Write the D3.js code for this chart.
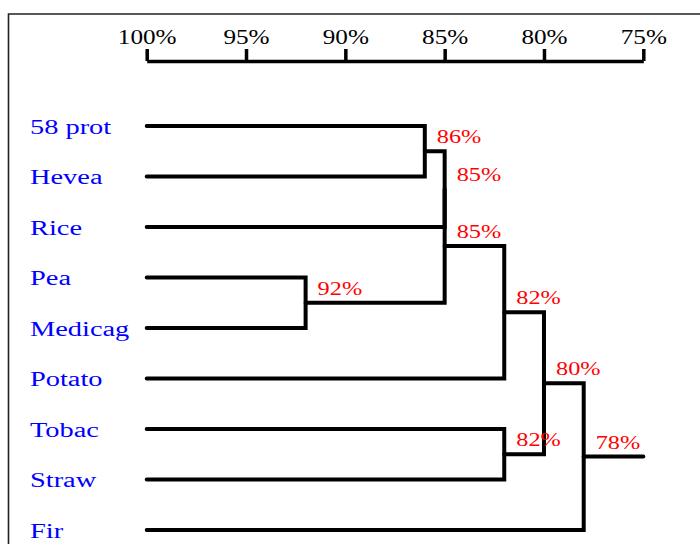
<!DOCTYPE html>
<html>
<head>
<meta charset="utf-8">
<script src="https://cdn.jsdelivr.net/npm/d3@7"></script>
<style>
  html, body { margin: 0; padding: 0; background: #fff; }
  svg { display: block; }
  text { font-family: "Liberation Serif", "Times New Roman", serif; }
</style>
</head>
<body>
<svg id="chart" width="700" height="544"></svg>
<script>
// Leaf taxa, top to bottom
const leaves = ["58 prot", "Hevea", "Rice", "Pea", "Medicag", "Potato", "Tobac", "Straw", "Fir"];

// Cluster joins: node id, the two members, similarity (%)
const mergeIds      = ["n86", "n85a", "n92", "n85b", "n82a", "n82b", "n80", "n78"];
const mergeLeft     = ["58 prot", "n86", "Pea", "n85a", "n85b", "Tobac", "n82a", "n80"];
const mergeRight    = ["Hevea", "Rice", "Medicag", "n92", "Potato", "Straw", "n82b", "Fir"];
const mergeSim      = [86, 85, 92, 85, 82, 82, 80, 78];

// Similarity axis ticks
const tickValues = [100, 95, 90, 85, 80, 75];

const svg = d3.select("#chart");

const x = d3.scaleLinear().domain([100, 75]).range([146.7, 643.3]);
const y = d3.scalePoint().domain(leaves).range([126, 530]);

// Frame along the top and left
svg.append("path")
  .attr("d", "M8.5,544 V14 H700")
  .attr("fill", "none")
  .attr("stroke", "#222")
  .attr("stroke-width", 1.6);

// Axis
const axisG = svg.append("g")
  .attr("transform", "translate(0,61)")
  .call(d3.axisTop(x)
    .tickValues(tickValues)
    .tickFormat(d => d + "%")
    .tickSize(12)
    .tickSizeOuter(0)
    .tickPadding(5));
axisG.select(".domain").attr("stroke", "#000").attr("stroke-width", 3.5);
axisG.selectAll(".tick line").attr("stroke", "#000").attr("stroke-width", 3.5);
axisG.selectAll(".tick text")
  .attr("fill", "#000")
  .attr("font-size", 20)
  .attr("font-family", "Liberation Serif, serif")
  .attr("transform", "scale(1.26,1)");

// Node positions
const pos = {};
leaves.forEach(l => { pos[l] = { x: x(100), y: y(l) }; });
const nodes = mergeIds.map((id, i) => {
  const a = pos[mergeLeft[i]], b = pos[mergeRight[i]];
  const n = { id, sim: mergeSim[i], x: x(mergeSim[i]), y: (a.y + b.y) / 2, a, b };
  pos[id] = n;
  return n;
});

const tree = svg.append("g")
  .attr("fill", "none")
  .attr("stroke", "#000")
  .attr("stroke-width", 4)
  .attr("stroke-linejoin", "miter")
  .attr("stroke-linecap", "round");

// Elbow connectors for each join
tree.selectAll("path.join")
  .data(nodes)
  .join("path")
  .attr("class", "join")
  .attr("d", n => `M${n.a.x},${n.a.y} H${n.x} V${n.b.y} H${n.b.x}`);

// Root stem out to the end of the axis
const root = nodes[nodes.length - 1];
tree.append("path")
  .attr("d", `M${root.x},${root.y} H${x(75)}`);

// Join labels
svg.append("g")
  .selectAll("text")
  .data(nodes)
  .join("text")
  .attr("transform", n => `translate(${n.x + 12},${n.y - 8}) scale(1.28,1)`)
  .attr("fill", "#ff0000")
  .attr("font-size", 19)
  .text(n => n.sim + "%");

// Leaf labels
svg.append("g")
  .selectAll("text")
  .data(leaves)
  .join("text")
  .attr("transform", l => `translate(30,${y(l) + 7.5}) scale(1.42,1)`)
  .attr("fill", "#0000ff")
  .attr("font-size", 20)
  .text(l => l);
</script>
</body>
</html>
